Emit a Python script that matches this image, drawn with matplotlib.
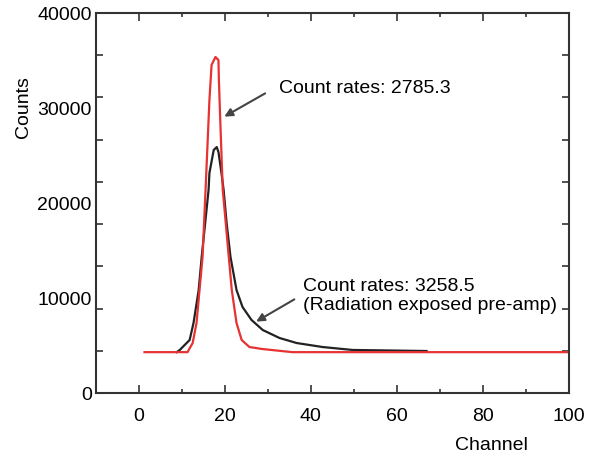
import matplotlib
matplotlib.use("Agg")
import matplotlib.pyplot as plt
import matplotlib.ticker as ticker

plt.rcParams["font.family"] = ["Liberation Sans", "DejaVu Sans"]
plt.rcParams["font.size"] = 14

# --- Data ---

red_channel = [1.3, 11.3, 12.5, 13.4, 14.1, 14.8, 15.5, 16.4, 16.9, 17.8, 18.5,
               18.6, 19.0, 19.5, 20.2, 20.9, 21.6, 22.7, 23.9, 25.7, 28.7, 35.7, 100]
red_counts = [4300, 4300, 5260, 7370, 10840, 14320, 21370, 30840, 34530, 35370, 35050,
              32950, 27680, 21370, 17890, 14320, 10840, 7370, 5580, 4840, 4630, 4300, 4300]

black_channel = [8.8, 9.5, 11.8, 12.7, 13.9, 14.6, 16.2, 16.4, 17.4, 18.1, 18.5, 19.2,
                 19.7, 20.4, 21.3, 22.7, 24.1, 26.2, 28.8, 32.7, 36.7, 42.7, 49.7, 66.9]
black_counts = [4300, 4530, 5580, 7370, 10840, 14320, 21370, 23160, 25580, 25890, 25370, 23160,
                21370, 17890, 14320, 10840, 9050, 7680, 6630, 5790, 5260, 4840, 4530, 4420]

y_tick_values = [0, 10000, 20000, 30000, 40000]
x_tick_values = [0, 20, 40, 60, 80, 100]

label_red = "Count rates: 2785.3"
label_black = "Count rates: 3258.5\n(Radiation exposed pre-amp)"

# --- Plot ---

fig = plt.figure(figsize=(5.92, 4.61), dpi=100)
ax = fig.add_axes([0.162, 0.1475, 0.799, 0.8243])

ax.plot(black_channel, black_counts, color="#222222", lw=1.6)
ax.plot(red_channel, red_counts, color="#e63232", lw=1.6)

ax.set_xlim(-10, 100)
ax.set_ylim(0, 40000)

# labels sit on an even 10000 grid, tick marks on a 9-division grid (as in original)
ax.set_yticks(y_tick_values)
ax.set_yticklabels([str(v) for v in y_tick_values])
ax.yaxis.set_minor_locator(ticker.FixedLocator([40000 * k / 9 for k in range(1, 9)]))
ax.tick_params(axis="y", which="major", length=0, pad=3)
ax.tick_params(axis="y", which="minor", direction="in", length=5, width=1.2,
               left=True, right=True, color="#333333")

ax.set_xticks(x_tick_values)
ax.xaxis.set_minor_locator(ticker.FixedLocator([10, 30, 50, 70, 90]))
ax.tick_params(axis="x", which="major", direction="in", length=6, width=1.2,
               top=True, bottom=True, pad=11, color="#333333")
ax.tick_params(axis="x", which="minor", direction="in", length=3, width=1.2,
               top=True, bottom=True, color="#333333")

for spine in ax.spines.values():
    spine.set_linewidth(1.5)
    spine.set_color("#333333")

ax.set_ylabel("Counts")
ax.yaxis.set_label_coords(-0.135, 0.753)
ax.set_xlabel("Channel")
ax.xaxis.set_label_coords(0.837, -0.115)

arrow = dict(arrowstyle="-|>", color="#444444", lw=1.5, mutation_scale=12)
ax.annotate("", xy=(19.3, 28950), xytext=(29.9, 31680), arrowprops=arrow)
ax.text(32.5, 32100, label_red, ha="left", va="center")

ax.annotate("", xy=(26.7, 7370), xytext=(36.7, 10000), arrowprops=arrow)
ax.text(38.2, 10200, label_black, ha="left", va="center", linespacing=1.15)

fig.savefig("out.png", dpi=100)
